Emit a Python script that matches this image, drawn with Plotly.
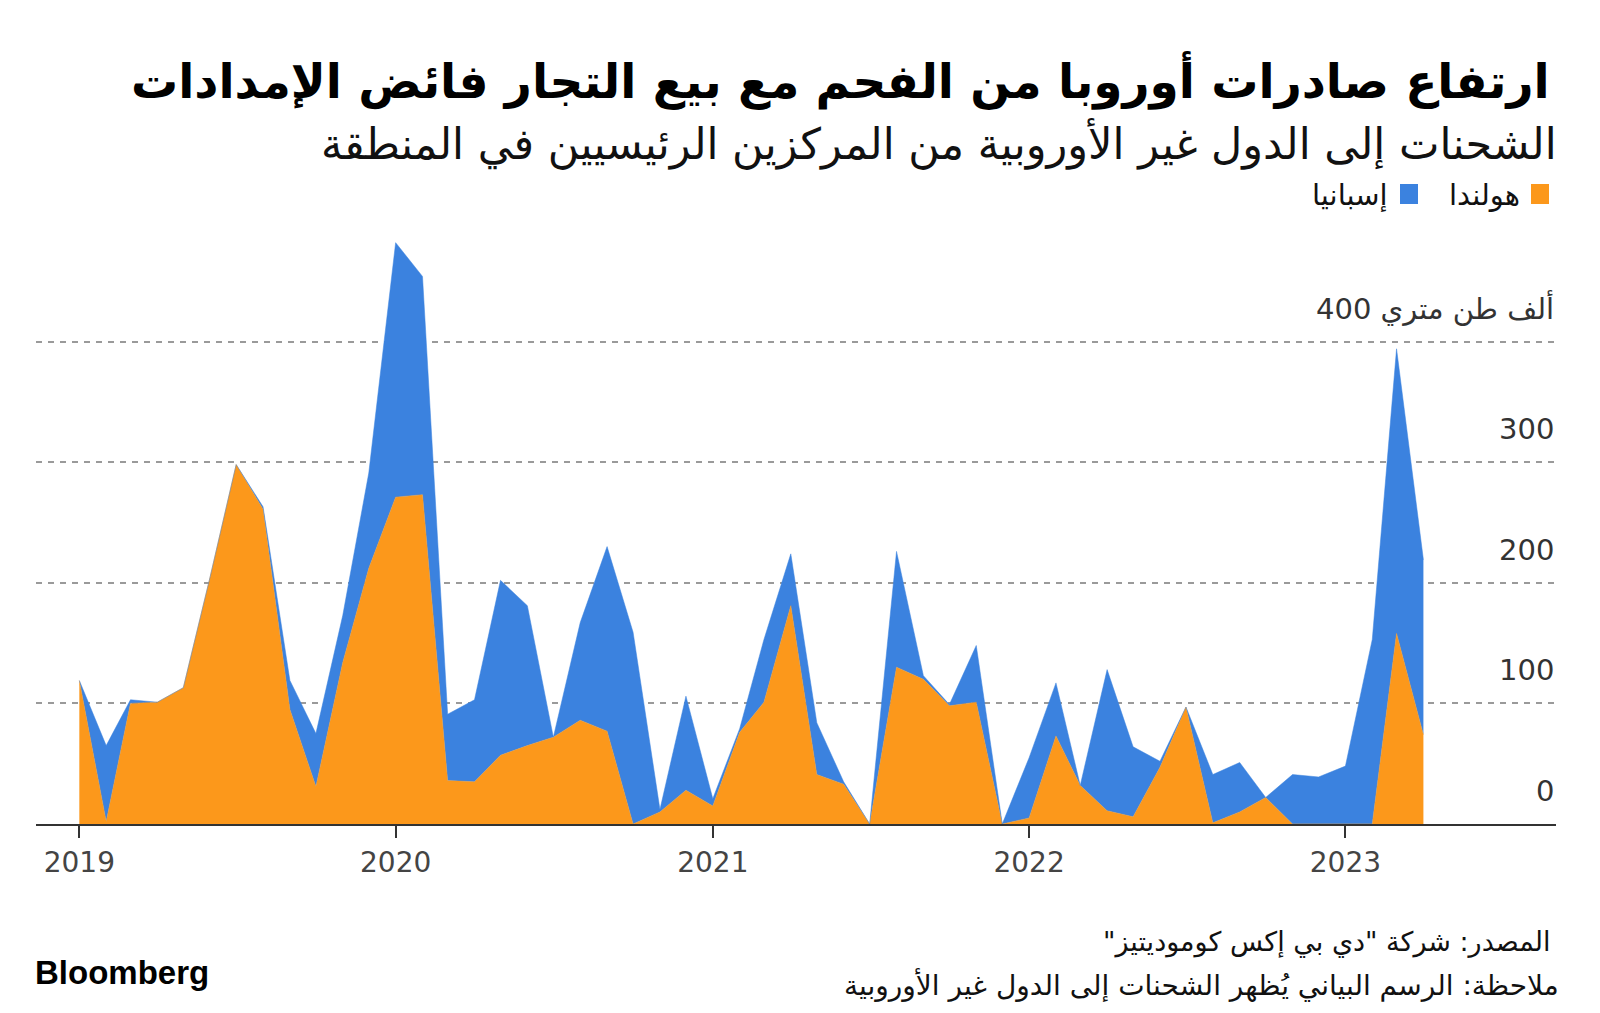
import plotly.graph_objects as go
import pandas as pd

months = pd.date_range("2019-01-01", periods=52, freq="MS").strftime("%Y-%m-%d").tolist()

netherlands = [119, 2, 100, 101, 113, 205, 298, 261, 95, 31, 134, 212,
               271, 273, 36, 35, 57, 65, 72, 86, 77, 0, 10, 28,
               15, 76, 101, 181, 41, 33, 0, 130, 120, 98, 101, 0,
               5, 73, 32, 11, 6, 47, 97, 1, 10, 22, 0, 0,
               0, 0, 158, 74]
spain = [0, 63, 3, 0, 0, 0, 0, 2, 24, 44, 39, 79,
         211, 181, 55, 68, 145, 116, 0, 81, 153, 159, 2, 78,
         6, 3, 52, 43, 43, 2, 0, 96, 3, 1, 47, 0,
         50, 44, 0, 117, 58, 5, 0, 40, 41, 0, 41, 39,
         48, 153, 236, 145]

year_ticks = ["2019-01-01", "2020-01-01", "2021-01-01", "2022-01-01", "2023-01-01"]
year_labels = ["2019", "2020", "2021", "2022", "2023"]
y_ticks = [0, 100, 200, 300, 400]
y_labels = ["0", "100", "200", "300", "ألف طن متري 400"]

title = "ارتفاع صادرات أوروبا من الفحم مع بيع التجار فائض الإمدادات"
subtitle = "الشحنات إلى الدول غير الأوروبية من المركزين الرئيسيين في المنطقة"
legend_nl = "هولندا"
legend_es = "إسبانيا"
source = "المصدر: شركة \"دي بي إكس كوموديتيز\"\u200f"
note = "ملاحظة: الرسم البياني يُظهر الشحنات إلى الدول غير الأوروبية"

ORANGE = "#FC981B"
BLUE = "#3B82DF"
FONT = "DejaVu Sans"

# page has an 8px body margin: figure is drawn at (8, 8)
OFF = 8
W, H = 1600 - 2 * OFF, 1013 - 2 * OFF
# plot area in page pixels: left 36, right 1556, top 233, bottom 824
L, R, T, B = 36 - OFF, W - (1556 - OFF), 233 - OFF, H - (824 - OFF)
PW, PH = W - L - R, H - T - B


def px(x):
    return (x - OFF - L) / PW


def py(y):
    return (H - B - (y - OFF)) / PH


fig = go.Figure()
fig.add_trace(go.Scatter(x=months, y=netherlands, name=legend_nl, stackgroup="one",
                         mode="lines", line=dict(width=0.5, color=ORANGE),
                         fillcolor=ORANGE, hoverinfo="x+y"))
fig.add_trace(go.Scatter(x=months, y=spain, name=legend_es, stackgroup="one",
                         mode="lines", line=dict(width=0.5, color=BLUE),
                         fillcolor=BLUE, hoverinfo="x+y"))

annotations = []
for v, lab in zip(y_ticks, y_labels):
    annotations.append(dict(x=1, xref="paper", y=v, yref="y", text=lab, showarrow=False,
                            xanchor="right", yanchor="bottom", yshift=14,
                            font=dict(family=FONT, size=29, color="#333333")))

annotations += [
    dict(x=px(1552), y=py(80), xref="paper", yref="paper", text="<b>" + title + "</b>",
         showarrow=False, xanchor="right", yanchor="middle",
         font=dict(family=FONT, size=47, color="#000000")),
    dict(x=px(1559), y=py(143), xref="paper", yref="paper", text=subtitle,
         showarrow=False, xanchor="right", yanchor="middle",
         font=dict(family=FONT, size=43, color="#111111")),
    dict(x=px(1522), y=py(195), xref="paper", yref="paper", text=legend_nl,
         showarrow=False, xanchor="right", yanchor="middle",
         font=dict(family=FONT, size=29, color="#111111")),
    dict(x=px(1390), y=py(195), xref="paper", yref="paper", text=legend_es,
         showarrow=False, xanchor="right", yanchor="middle",
         font=dict(family=FONT, size=29, color="#111111")),
    dict(x=px(1553), y=py(942), xref="paper", yref="paper", text=source,
         showarrow=False, xanchor="right", yanchor="middle",
         font=dict(family=FONT, size=27, color="#111111")),
    dict(x=px(1561), y=py(984), xref="paper", yref="paper", text=note,
         showarrow=False, xanchor="right", yanchor="middle",
         font=dict(family=FONT, size=28, color="#111111")),
    dict(x=px(33), y=py(972), xref="paper", yref="paper", text="<b>Bloomberg</b>",
         showarrow=False, xanchor="left", yanchor="middle",
         font=dict(family="Liberation Sans", size=33, color="#000000")),
]

shapes = [
    dict(type="rect", xref="paper", yref="paper", x0=px(1531), x1=px(1549),
         y0=py(184), y1=py(204), fillcolor=ORANGE, line=dict(width=0)),
    dict(type="rect", xref="paper", yref="paper", x0=px(1400), x1=px(1418),
         y0=py(184), y1=py(204), fillcolor=BLUE, line=dict(width=0)),
]

fig.update_layout(
    width=W, height=H,
    margin=dict(l=L, r=R, t=T, b=B),
    paper_bgcolor="white", plot_bgcolor="white",
    showlegend=False,
    annotations=annotations, shapes=shapes,
    xaxis=dict(type="date", range=["2018-11-12", "2023-09-01"],
               tickvals=year_ticks, ticktext=year_labels,
               showgrid=False, showline=True, linecolor="#333333", linewidth=2,
               ticks="outside", ticklen=12, tickwidth=2, tickcolor="#333333",
               tickfont=dict(family=FONT, size=28, color="#444444"),
               zeroline=False),
    yaxis=dict(range=[0, 490], tickvals=[100, 200, 300, 400], showticklabels=False,
               showgrid=True, gridcolor="#9a9a9a", gridwidth=2, griddash="6px,6px",
               zeroline=False, showline=False, ticks=""),
)

fig.write_html("out.html")
